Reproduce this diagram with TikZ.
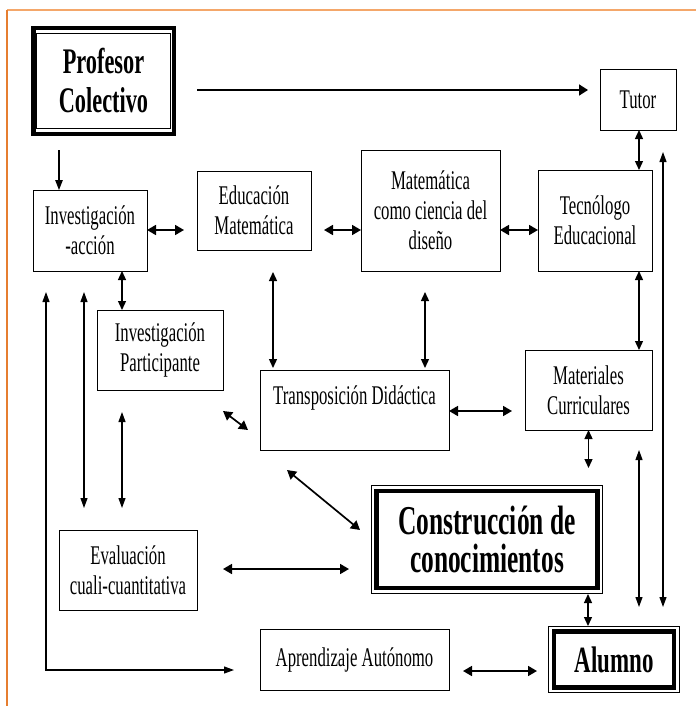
\documentclass[tikz,border=0pt]{standalone}
\usepackage{fontspec}
\setmainfont{Liberation Serif}[FakeStretch=0.62]
\usetikzlibrary{arrows.meta,calc}
\newcommand\myNormalFont{\fontsize{27}{30}\selectfont}
\newcommand\myBigFont{\fontsize{36}{39}\selectfont\bfseries}
\newcommand\myHugeFont{\fontsize{41}{38}\selectfont\bfseries}
\definecolor{orTop}{HTML}{F4A76A}
\definecolor{orLeft}{HTML}{E67E30}
\tikzset{
  box/.style={draw, line width=1pt, inner sep=0pt, outer sep=0pt, align=center, font=\myNormalFont},
  bigbox/.style={inner sep=0pt, outer sep=0pt, align=center, font=\myBigFont},
  thk/.style={line width=1.7pt, {Triangle[length=9pt,width=10pt]}-{Triangle[length=9pt,width=10pt]}},
  thkS/.style={line width=1.7pt, -{Triangle[length=9pt,width=11pt]}},
  med/.style={line width=1.3pt, {Triangle[length=9pt,width=8pt]}-{Triangle[length=9pt,width=8pt]}},
  thn/.style={line width=1.1pt, {Triangle[length=10pt,width=7pt]}-{Triangle[length=10pt,width=7pt]}},
  thnS/.style={line width=1.1pt, -{Triangle[length=10pt,width=7.5pt]}},
}
\begin{document}
\begin{tikzpicture}[x=1pt,y=-1pt]
\useasboundingbox (0,0) rectangle (696,706);
\fill[white] (0,0) rectangle (696,706);
\draw[orTop, line width=1.5pt] (7,10) -- (696,10);
\draw[orLeft, line width=1.5pt] (7,10) -- (7,706);

% boxes
\node[bigbox, minimum width=145pt, minimum height=110pt] (prof) at (103.5,81) {Profesor\\Colectivo};
\draw[line width=4.5pt] ([shift={(2.25,2.25)}]prof.north west) rectangle ([shift={(-2.25,-2.25)}]prof.south east);
\draw[line width=1.2pt] ([shift={(5.5,7.5)}]prof.north west) rectangle ([shift={(-5.5,-7.5)}]prof.south east);

\node[box, minimum width=76pt, minimum height=60pt] (tutor) at (638,100) {Tutor};
\node[box, minimum width=114pt, minimum height=81pt] (inva) at (90,230.5) {Investigación\\-acción};
\node[box, minimum width=114pt, minimum height=79pt] (edum) at (254,210.5) {Educación\\Matemática};
\node[box, minimum width=139pt, minimum height=121pt] (matd) at (430.5,210.5) {Matemática\\como ciencia del\\diseño};
\node[box, minimum width=114pt, minimum height=101pt] (tecn) at (595,220.5) {Tecnólogo\\Educacional};
\node[box, minimum width=126pt, minimum height=80pt] (invp) at (160,350) {Investigación\\Participante};
\node[box, minimum width=189pt, minimum height=80pt] (trans) at (354.5,410) {Transposición Didáctica\\\mbox{}};
\node[box, minimum width=127pt, minimum height=80pt] (mater) at (588.5,390) {Materiales\\Curriculares};
\node[box, minimum width=138pt, minimum height=80pt] (eval) at (128,570) {Evaluación\\cuali-cuantitativa};
\node[box, minimum width=189pt, minimum height=61pt] (aprend) at (354.5,659.5) {Aprendizaje Autónomo};

\node[bigbox, font=\myHugeFont, minimum width=232pt, minimum height=109pt] (cons) at (487,539.5) {Construcción de\\conocimientos};
\draw[line width=1pt] ([shift={(0.5,0.5)}]cons.north west) rectangle ([shift={(-0.5,-0.5)}]cons.south east);
\draw[line width=4.5pt] ([shift={(5.5,6)}]cons.north west) rectangle ([shift={(-5.5,-6)}]cons.south east);

\node[bigbox, font=\fontsize{37}{39}\selectfont\bfseries, minimum width=132pt, minimum height=67pt] (alum) at (614,659.5) {Alumno};
\draw[line width=1pt] ([shift={(0.5,0.5)}]alum.north west) rectangle ([shift={(-0.5,-0.5)}]alum.south east);
\draw[line width=4.5pt] ([shift={(6,5.5)}]alum.north west) rectangle ([shift={(-6,-5.5)}]alum.south east);

% connectors
\draw[thkS, shorten <=21pt, shorten >=12pt] (prof.east |- 0,90) -- (tutor.west |- 0,90);
\draw[thnS, shorten <=14pt] (prof.south -| 59,0) -- (inva.north -| 59,0);
\draw[thk, shorten >=13pt] (inva.east |- 0,230) -- (edum.west |- 0,230);
\draw[thk, shorten <=13pt] (edum.east |- 0,230) -- (matd.west |- 0,230);
\draw[thk] (matd.east |- 0,230) -- (tecn.west |- 0,230);
\draw[med] (tutor.south -| 639,0) -- (tecn.north -| 639,0);
\draw[thn, shorten <=22pt, shorten >=19pt] (tutor.south -| 663,0) -- (alum.north -| 663,0);
\draw[thn, shorten <=20pt, shorten >=19pt] (mater.south -| 639,0) -- (alum.north -| 639,0);
\draw[med] (tecn.south -| 639,0) -- (mater.north -| 639,0);
\draw[med, shorten >=17pt] (mater.south) -- (cons.north -| mater.south);
\draw[thk, shorten >=13pt] (trans.east |- 0,411) -- (mater.west |- 0,411);
\draw[med, shorten <=22pt, shorten >=2pt] (edum.south -| 273,0) -- (trans.north -| 273,0);
\draw[med, shorten <=21pt, shorten >=2pt] (matd.south -| 425,0) -- (trans.north -| 425,0);
\draw[med] (inva.south -| 122,0) -- (invp.north -| 122,0);
\draw[thk] ($(invp.south east)+(0,21)$) -- ($(trans.south west)+(-12,-20)$);
\draw[thk] ($(trans.south west)+(27,20)$) -- ($(cons.north west)+(-11,45)$);
\draw[thn] ($(inva.south west)+(13,21)$) |- ($(aprend.west)+(-26,10.5)$);
\draw[thn, shorten <=21pt, shorten >=22pt] (inva.south -| 84,0) -- (eval.north -| 84,0);
\draw[thn, shorten <=22pt, shorten >=22pt] (invp.south -| 122,0) -- (eval.north -| 122,0);
\draw[thk, shorten <=26pt, shorten >=22pt] (eval.east |- 0,569) -- (cons.west |- 0,569);
\draw[med] (cons.south -| 588,0) -- (alum.north -| 588,0);
\draw[thk, shorten <=14pt, shorten >=11pt] (aprend.east |- 0,671) -- (alum.west |- 0,671);
\end{tikzpicture}
\end{document}
